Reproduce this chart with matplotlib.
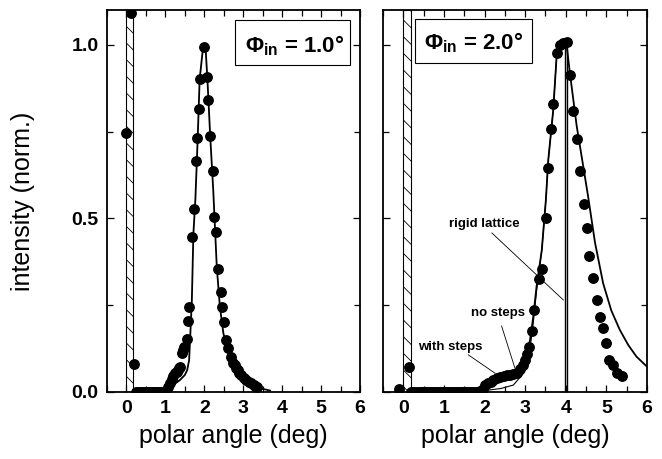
import matplotlib
matplotlib.use("Agg")
import matplotlib.pyplot as plt
from matplotlib.patches import Rectangle
from matplotlib.ticker import MultipleLocator

plt.rcParams['font.family'] = ['Liberation Sans', 'DejaVu Sans']
plt.rcParams['mathtext.fontset'] = 'custom'
plt.rcParams['mathtext.rm'] = 'Liberation Sans'
plt.rcParams['mathtext.it'] = 'Liberation Sans:italic'
plt.rcParams['mathtext.bf'] = 'Liberation Sans:bold'
plt.rcParams['hatch.linewidth'] = 0.6

# ---------------- data: Phi_in = 1.0 deg ----------------
p1_label = r'$\mathbf{\Phi_{in}}$ = 1.0°'
p1_dots_x = [0.0, 0.12, 0.2,
             0.25, 0.3, 0.35, 0.4, 0.45, 0.5, 0.55, 0.6, 0.65, 0.7, 0.75, 0.8, 0.85, 0.9, 0.95, 1.0,
             1.07, 1.12, 1.16, 1.20, 1.25, 1.29, 1.32, 1.35, 1.38, 1.42, 1.45, 1.48, 1.55, 1.59, 1.61,
             1.68, 1.74, 1.78, 1.82, 1.86, 1.89, 1.99, 2.08, 2.10, 2.15, 2.23, 2.26, 2.30, 2.36,
             2.42, 2.46, 2.51, 2.56, 2.62, 2.68, 2.74, 2.78, 2.82, 2.86, 2.90, 2.95, 3.02, 3.08,
             3.15, 3.20, 3.27, 3.30, 3.35]
p1_dots_y = [0.746, 1.09, 0.08,
             0.0, 0.0, 0.0, 0.0, 0.0, 0.0, 0.0, 0.0, 0.0, 0.0, 0.0, 0.0, 0.0, 0.0, 0.0, 0.0,
             0.015, 0.025, 0.037, 0.045, 0.054, 0.058, 0.063, 0.068, 0.073, 0.111, 0.12, 0.129, 0.152, 0.205, 0.246,
             0.446, 0.527, 0.664, 0.731, 0.815, 0.90, 0.994, 0.907, 0.84, 0.738, 0.635, 0.505, 0.46, 0.354,
             0.289, 0.244, 0.203, 0.15, 0.128, 0.10, 0.083, 0.077, 0.07, 0.062, 0.055, 0.05, 0.04, 0.035,
             0.03, 0.026, 0.02, 0.018, 0.015]
p1_fit_x = [0.2, 1.0, 1.07, 1.2, 1.38, 1.5, 1.56, 1.61, 1.63, 1.68, 1.72, 1.77, 1.83, 1.88,
            1.97, 2.03, 2.08, 2.15, 2.23, 2.32, 2.40, 2.49, 2.62, 2.75, 2.92, 3.17, 3.43, 3.69]
p1_fit_y = [0.0, 0.0, 0.008, 0.02, 0.035, 0.049, 0.063, 0.092, 0.14, 0.265, 0.457, 0.553, 0.73, 0.90,
            0.995, 0.995, 0.90, 0.74, 0.58, 0.361, 0.246, 0.169, 0.111, 0.073, 0.044, 0.025, 0.011, 0.004]

# ---------------- data: Phi_in = 2.0 deg ----------------
p2_label = r'$\mathbf{\Phi_{in}}$ = 2.0°'
p2_dots_x = [-0.1, 0.15,
             0.2, 0.25, 0.3, 0.35, 0.4, 0.45, 0.5, 0.55, 0.6, 0.65, 0.7, 0.75, 0.8, 0.85, 0.9, 0.95,
             1.0, 1.05, 1.1, 1.15, 1.2, 1.25, 1.3, 1.35, 1.4, 1.45, 1.5, 1.55, 1.6, 1.65, 1.7, 1.75,
             1.8, 1.85, 1.9, 1.95,
             2.02, 2.08, 2.15, 2.22, 2.31, 2.39, 2.47, 2.55, 2.63, 2.71, 2.79, 2.87, 2.94, 3.00,
             3.05, 3.10, 3.17, 3.21, 3.34, 3.41, 3.51, 3.57, 3.64, 3.69, 3.78, 3.86, 3.94, 4.02,
             4.10, 4.19, 4.27, 4.35, 4.44, 4.52, 4.58, 4.68, 4.76, 4.84, 4.92, 4.99, 5.07, 5.17,
             5.26, 5.38]
p2_dots_y = [0.01, 0.073,
             0.0, 0.0, 0.0, 0.0, 0.0, 0.0, 0.0, 0.0, 0.0, 0.0, 0.0, 0.0, 0.0, 0.0, 0.0, 0.0,
             0.0, 0.0, 0.0, 0.0, 0.0, 0.0, 0.0, 0.0, 0.0, 0.0, 0.0, 0.0, 0.0, 0.0, 0.0, 0.0,
             0.0, 0.0, 0.003, 0.008,
             0.02, 0.025, 0.03, 0.035, 0.039, 0.043, 0.046, 0.048, 0.049, 0.052, 0.056, 0.065, 0.078, 0.092,
             0.11, 0.131, 0.177, 0.236, 0.325, 0.354, 0.50, 0.645, 0.758, 0.83, 0.976, 1.0, 1.005, 1.007,
             0.914, 0.808, 0.729, 0.635, 0.542, 0.472, 0.392, 0.328, 0.265, 0.215, 0.183, 0.14, 0.092, 0.078,
             0.054, 0.047]
p2_steps_x = [0.2, 1.89, 2.05, 2.31, 2.55, 2.79, 2.91, 3.03, 3.12, 3.20, 3.28, 3.41, 3.51, 3.57,
              3.69, 3.78, 3.90, 3.97, 4.02, 4.10, 4.27, 4.43, 4.55, 4.72, 4.92, 5.12, 5.33, 5.54, 5.74, 6.0]
p2_steps_y = [0.0, 0.01, 0.025, 0.045, 0.049, 0.06, 0.073, 0.102, 0.15, 0.217, 0.303, 0.409, 0.553, 0.669,
              0.81, 0.976, 1.0, 1.005, 1.0, 0.92, 0.765, 0.65, 0.563, 0.43, 0.313, 0.235, 0.179, 0.135, 0.102, 0.073]
p2_nosteps_x = [0.2, 2.13, 2.4, 2.71, 2.96, 3.08, 3.2, 3.28, 3.41, 3.51, 3.57, 3.69, 3.78, 3.90, 3.97, 4.02]
p2_nosteps_y = [0.0, 0.006, 0.01, 0.02, 0.054, 0.087, 0.2, 0.29, 0.409, 0.553, 0.669, 0.81, 0.976, 1.0, 1.005, 1.0]
rigid_x = [3.97, 3.97, 4.03, 4.03]
rigid_y = [0.0, 1.0, 1.0, 0.0]

spec_band = (0.0, 0.18)

xticks = [0, 1, 2, 3, 4, 5, 6]
yticks = [0.0, 0.5, 1.0]
ytick_labels = ['0.0', '0.5', '1.0']

fig = plt.figure(figsize=(6.62, 4.59), dpi=100)
ax1 = fig.add_axes([107/662, 67/459, 253/662, 382/459])
ax2 = fig.add_axes([383/662, 67/459, 264/662, 382/459])

for ax in (ax1, ax2):
    ax.set_xlim(-0.5, 6)
    ax.set_ylim(0, 1.1)
    ax.axvspan(spec_band[0], spec_band[1], facecolor='white', edgecolor='black',
               hatch='\\\\', lw=0.8, zorder=1)
    ax.set_xticks(xticks)
    ax.set_xticklabels([str(t) for t in xticks], fontsize=14, fontweight='bold')
    ax.xaxis.set_minor_locator(MultipleLocator(0.5))
    ax.set_yticks(yticks)
    ax.yaxis.set_minor_locator(MultipleLocator(0.25))
    ax.tick_params(which='both', direction='in', top=True, right=True, width=0.9)
    ax.tick_params(which='major', length=5, pad=6)
    ax.tick_params(which='minor', length=4)
    for s in ax.spines.values():
        s.set_linewidth(1.3)
    ax.set_xlabel('polar angle (deg)', fontsize=18, labelpad=5)

ax1.set_yticklabels(ytick_labels, fontsize=14, fontweight='bold')
ax2.set_yticklabels([])
ax1.set_ylabel('intensity (norm.)', fontsize=18, labelpad=26)

# left panel
ax1.plot(p1_fit_x, p1_fit_y, color='black', lw=1.3, zorder=3)
ax1.plot(p1_dots_x, p1_dots_y, 'o', color='black', ms=6.8, zorder=4)
ax1.add_patch(Rectangle((0.506, 0.856), 0.456, 0.117, transform=ax1.transAxes,
                        fc='white', ec='black', lw=0.8, zorder=5))
ax1.text(4.31, 0.998, p1_label, fontsize=16, fontweight='bold', ha='center', va='center', zorder=6)

# right panel
ax2.plot(rigid_x, rigid_y, color='black', lw=1.0, zorder=3)
ax2.plot(p2_nosteps_x, p2_nosteps_y, color='black', lw=0.8, zorder=3)
ax2.plot(p2_steps_x, p2_steps_y, color='black', lw=1.3, zorder=3)
ax2.plot(p2_dots_x, p2_dots_y, 'o', color='black', ms=6.8, zorder=4)
ax2.add_patch(Rectangle((0.122, 0.861), 0.441, 0.115, transform=ax2.transAxes,
                        fc='white', ec='black', lw=0.8, zorder=5))
ax2.text(1.72, 1.005, p2_label, fontsize=16, fontweight='bold', ha='center', va='center', zorder=6)

ann_kw = dict(fontsize=9.5, fontweight='bold', ha='center', va='center', zorder=6)
ax2.text(1.99, 0.484, 'rigid lattice', **ann_kw)
ax2.plot([2.18, 3.94], [0.458, 0.265], color='black', lw=0.6, zorder=2)
ax2.text(2.32, 0.227, 'no steps', **ann_kw)
ax2.plot([2.42, 2.75], [0.19, 0.068], color='black', lw=0.6, zorder=2)
ax2.text(1.15, 0.13, 'with steps', **ann_kw)
ax2.plot([1.6, 2.26], [0.107, 0.054], color='black', lw=0.6, zorder=2)

fig.savefig('out.png', dpi=100)
